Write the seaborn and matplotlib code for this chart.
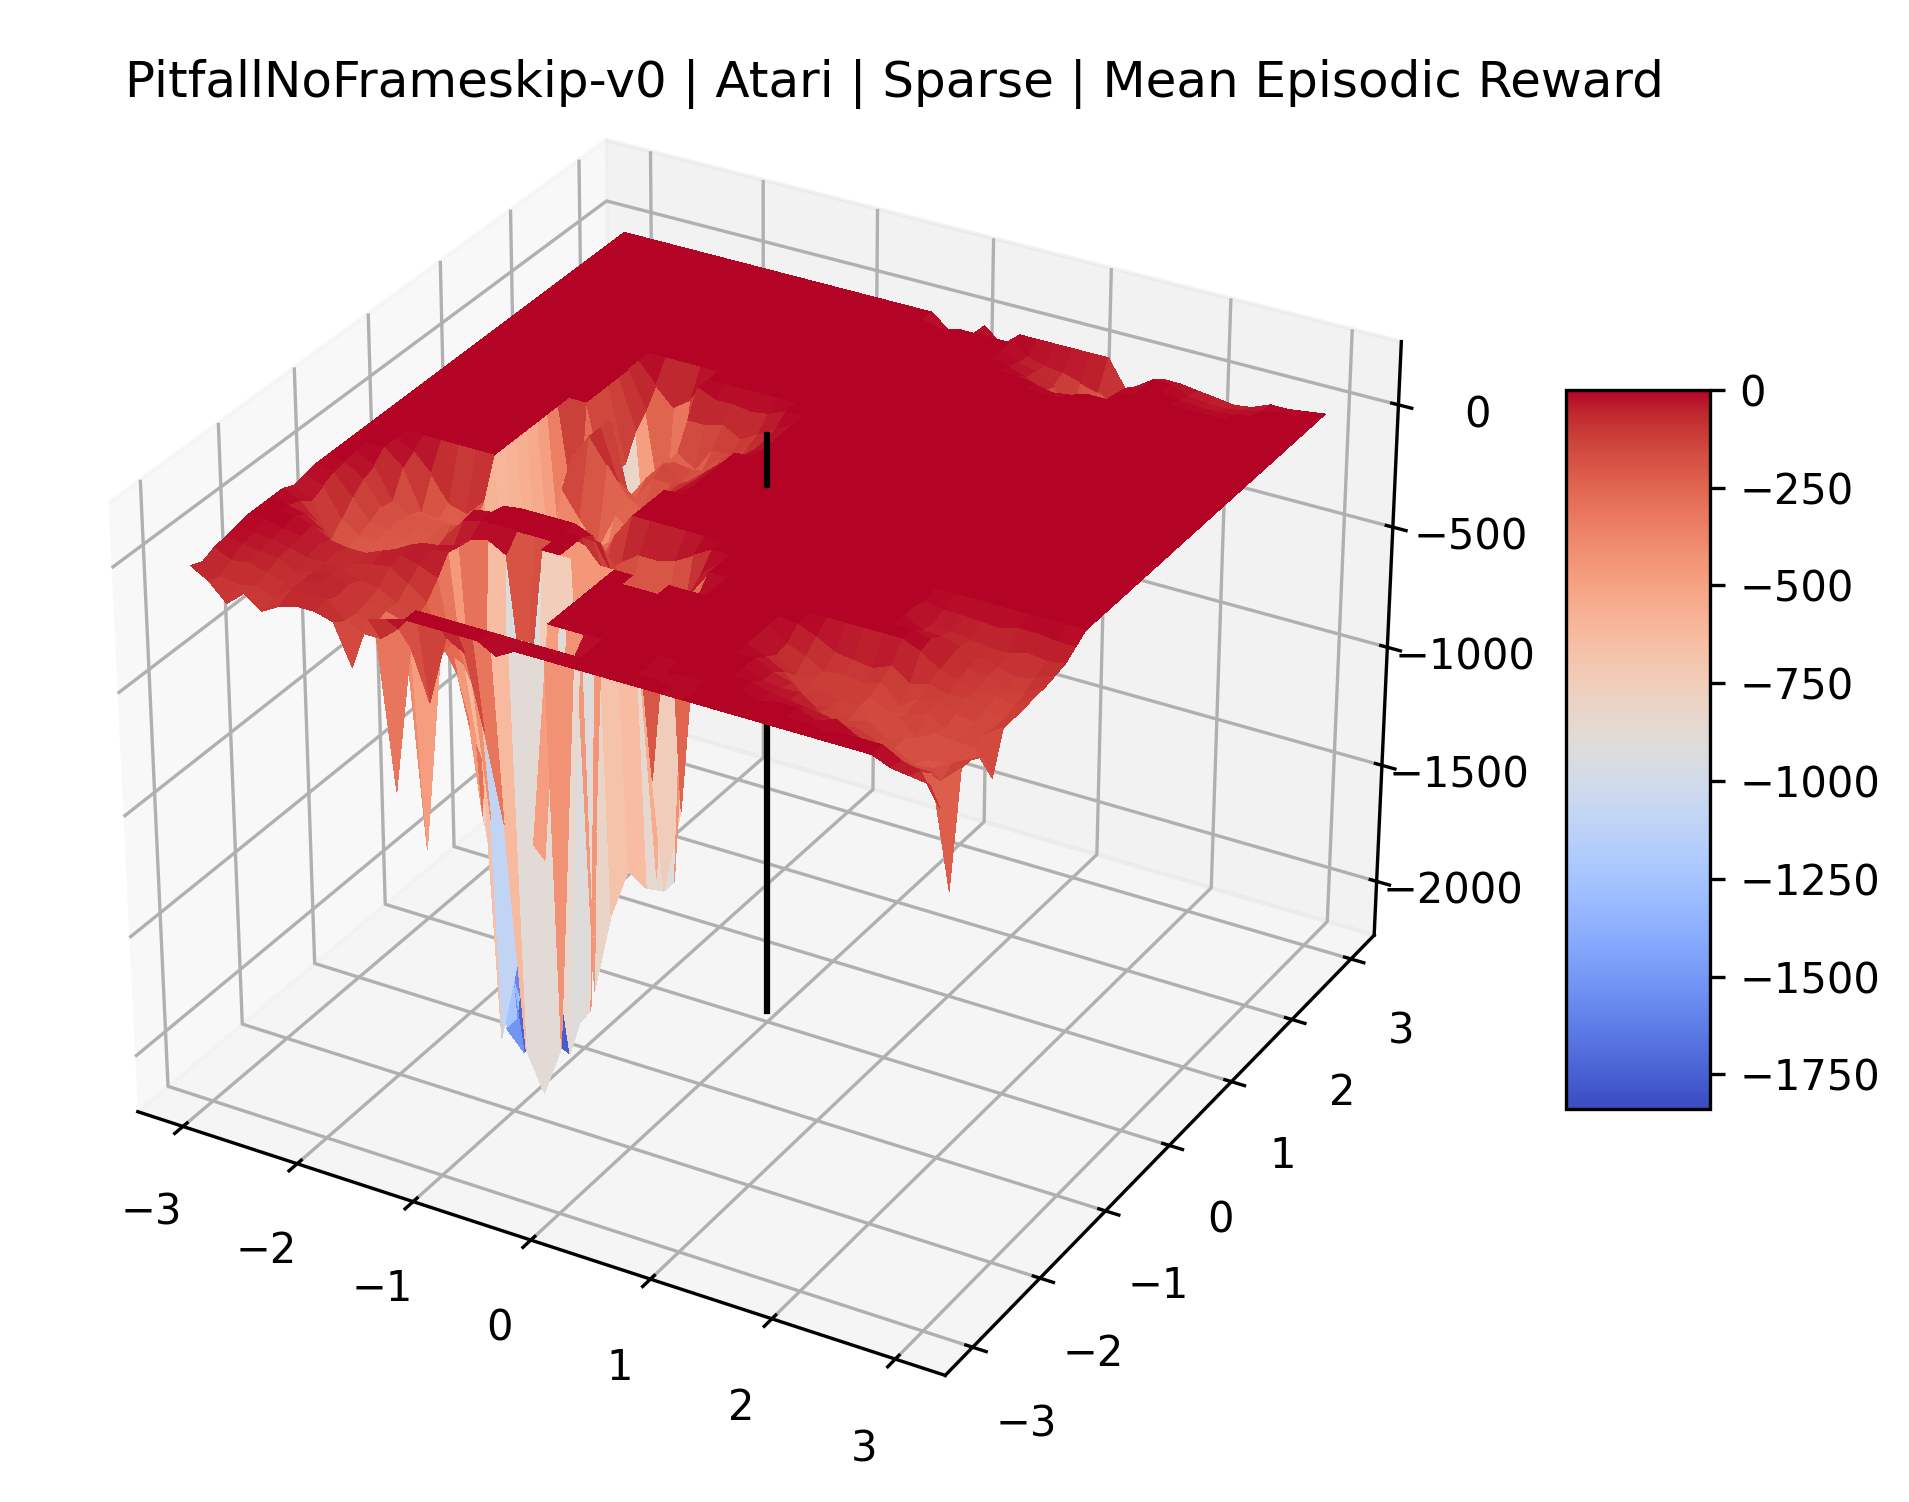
import numpy as np
import matplotlib
matplotlib.use("Agg")
import matplotlib.pyplot as plt
import seaborn as sns

title = "PitfallNoFrameskip-v0 | Atari | Sparse | Mean Episodic Reward"
axis_ticks = [-3, -2, -1, 0, 1, 2, 3]
z_ticks = [-2000, -1500, -1000, -500, 0]
cbar_ticks = [0, -250, -500, -750, -1000, -1250, -1500, -1750]
grid_x = np.linspace(-3, 3, 41)
grid_y = np.linspace(-3, 3, 41)
line_low = [-2190, 0]
line_high = [0, 200]

# non-zero reward per grid row (y index): {x index: reward}; all other cells are 0
row00 = {0:-30,1:-70,2:-140,3:-80,4:-130,5:-90,6:-70,7:-70,8:-90,9:-250,10:-40,11:-20,17:-40,38:-30,39:-40,40:-50}
row01 = {0:-50,1:-90,2:-100,3:-90,4:-110,5:-60,6:-60,7:-60,8:-120,9:-150,10:-150,11:-90,26:-15,27:-20,34:-15,38:-40,39:-60,40:-180}
row02 = {0:-30,1:-60,2:-50,3:-70,4:-90,5:-60,6:-50,7:-80,8:-130,9:-150,10:-800,11:-200,12:-400,13:-120,14:-160,15:-450,16:-800,17:-1700,18:-1860,19:-1650,20:-60,24:-15,25:-20,30:-15,33:-30,35:-40,36:-70,37:-80,38:-100,39:-100,40:-540}
row03 = {0:-20,1:-30,2:-40,3:-50,4:-80,5:-60,6:-50,7:-70,8:-120,9:-130,10:-150,11:-1050,12:-250,13:-150,14:-300,15:-1740,16:-1400,17:-900,30:-20,31:-30,32:-40,33:-50,34:-80,35:-100,36:-100,37:-140,38:-150,39:-170,40:-100}
row04 = {0:-10,1:-20,2:-30,3:-40,4:-60,5:-60,6:-70,7:-90,8:-100,9:-140,10:-180,11:-220,12:-180,13:-300,14:-900,15:-1500,16:-1700,17:-1000,29:-30,30:-40,31:-35,32:-90,33:-120,34:-110,35:-140,36:-150,37:-190,38:-180,39:-140,40:-100}
row05 = {2:-20,3:-30,4:-40,5:-50,6:-80,7:-60,8:-50,9:-100,10:-150,11:-320,12:-350,13:-500,14:-1800,15:-1880,16:-1820,17:-1500,29:-35,30:-55,31:-120,32:-110,33:-140,34:-120,35:-170,36:-140,37:-210,38:-200,39:-170,40:-130}
row06 = {3:-20,4:-60,5:-70,6:-70,7:-40,8:-40,9:-60,10:-90,11:-450,12:-700,13:-900,14:-1800,15:-1800,16:-1850,17:-1880,28:-30,29:-70,30:-140,31:-100,32:-120,33:-120,34:-210,35:-120,36:-180,37:-140,38:-150,39:-150,40:-250}
row07 = {1:-15,2:-30,3:-80,4:-150,5:-180,6:-150,7:-70,8:-30,9:-30,10:-20,11:-700,12:-1200,13:-1000,14:-1500,15:-1700,16:-1820,17:-1786,28:-60,29:-120,30:-110,31:-120,32:-120,33:-120,34:-160,35:-140,36:-120,37:-160,38:-160,39:-140,40:-90}
row08 = {1:-30,2:-100,3:-180,4:-200,5:-200,6:-180,7:-120,8:-60,9:-50,10:-30,11:-1100,12:-1400,13:-1500,14:-1500,15:-1500,16:-1500,17:-1780,28:-50,29:-80,30:-120,31:-110,32:-120,33:-100,34:-170,35:-120,36:-120,37:-140,38:-150,39:-150,40:-90}
row09 = {0:-20,1:-60,2:-200,3:-220,4:-210,5:-200,6:-200,7:-180,8:-120,9:-100,10:-40,11:-20,12:-60,13:-700,20:-800,28:-10,29:-40,30:-80,31:-90,32:-100,33:-70,34:-120,35:-100,36:-120,37:-110,38:-140,39:-150,40:-90}
row10 = {0:-10,1:-40,2:-150,3:-200,4:-200,5:-210,6:-210,7:-220,8:-100,9:-20,16:-1800,17:-1460,18:-1250,19:-1300,20:-1290,21:-940,22:-60,34:-30,35:-80,36:-100,37:-120,38:-120,39:-140,40:-80}
row11 = {1:-20,2:-100,3:-180,4:-190,5:-210,6:-220,7:-200,8:-100,9:-10,17:-100,18:-300,19:-1300,20:-1290,21:-100,34:-15,35:-70,36:-90,37:-100,38:-130,39:-120,40:-80}
row12 = {1:-10,2:-60,3:-150,4:-190,5:-200,6:-200,7:-150,8:-130,9:-80,10:-10,15:-30,16:-150,17:-280,18:-300,19:-300,20:-260,21:-60,33:-40,34:-40,35:-60,36:-80,37:-100,38:-120,39:-100,40:-70}
row13 = {2:-40,3:-160,4:-200,5:-190,6:-200,7:-180,8:-170,9:-170,10:-120,11:-100,12:-120,13:-100,14:-120,15:-200,16:-150,17:-100,18:-100,19:-80,20:-40,33:-50,34:-60,35:-70,36:-80,37:-80,38:-60,39:-70,40:-60}
row14 = {3:-60,4:-220,5:-230,6:-240,7:-220,8:-400,9:-300,10:-300,11:-400,12:-300,13:-200,14:-250,15:-100,32:-15,33:-30,34:-30,35:-35,36:-40,37:-20,38:-20,39:-30,40:-30}
row15 = {3:-30,4:-100,5:-200,6:-220,7:-150,8:-1000,9:-1000,10:-600,11:-800,12:-500,13:-300,14:-350,15:-150}
row16 = {8:-1200,9:-600,10:-700,11:-700,12:-600,13:-250,14:-200,15:-100}
row17 = {8:-1200,9:-500,10:-700,11:-650,12:-500,13:-300,14:-200,15:-120}
row18 = {8:-1150,9:-400,10:-600,11:-600,12:-400,13:-300,14:-250,15:-150,16:-40}
row19 = {8:-1100,9:-200,10:-300,11:-400,12:-250,13:-300,14:-200,15:-100,16:-50}
row20 = {8:-1050,9:-100,11:-100,12:-200,13:-250,14:-200,15:-100,16:-60}
row21 = {8:-900,9:-150,11:-200,12:-250,13:-150,14:-150,15:-120,16:-60}
row22 = {8:-500,9:-300,11:-300,12:-200,13:-120,14:-180,15:-150,16:-80}
row23 = {9:-300,10:-500,11:-300,12:-200,13:-150,14:-160,15:-200,16:-100,17:-40}
row24 = {9:-300,10:-1800,11:-500,12:-200,13:-300,14:-200,15:-130,16:-120,17:-50}
row25 = {9:-300,10:-1800,11:-500,12:-200,13:-250,14:-150,15:-150,16:-100,17:-50}
row26 = {9:-200,10:-1000,11:-500,12:-100,13:-100,14:-80,15:-120,16:-80,17:-40}
row27 = {9:-150,10:-600,11:-400,13:-30,14:-30,15:-40,16:-30}
row28 = {9:-80,10:-150,11:-100}
row29 = {}
row30 = {}
row31 = {}
row32 = {}
row33 = {}
row34 = {}
row35 = {}
row36 = {26:-15,27:-30,28:-20}
row37 = {24:-15,25:-40,26:-70,27:-250,28:-300,29:-120,30:-10}
row38 = {24:-30,25:-50,26:-90,27:-230,28:-280,29:-250,30:-20,33:-15,34:-20,35:-20,36:-15}
row39 = {19:-20,24:-40,25:-60,26:-70,27:-90,28:-110,29:-150,30:-50,33:-30,34:-40,35:-40,36:-30,37:-15}
row40 = {19:-60,20:-70,22:-60,29:-110,30:-70,31:-30,32:-30,33:-40,34:-50,35:-60,36:-50,37:-20,38:-20,39:-10}
rows = [row00,row01,row02,row03,row04,row05,row06,row07,row08,row09,row10,row11,row12,row13,
        row14,row15,row16,row17,row18,row19,row20,row21,row22,row23,row24,row25,row26,row27,
        row28,row29,row30,row31,row32,row33,row34,row35,row36,row37,row38,row39,row40]

sns.set_style("white")
plt.rcdefaults()
cmap = sns.color_palette("coolwarm", as_cmap=True)

Z = np.zeros((len(grid_y), len(grid_x)))
for j, row in enumerate(rows):
    for i, value in row.items():
        Z[j, i] = value
X, Y = np.meshgrid(grid_x, grid_y)

fig = plt.figure(figsize=(1910/300, 1502/300), dpi=300)
ax = fig.add_axes([0.0016, 0.0239, 0.78, 0.957], projection="3d")
ax.computed_zorder = False
ax.plot([0, 0], [0, 0], line_low, color="black", lw=1.5, zorder=1)
surf = ax.plot_surface(X, Y, Z, cmap=cmap, rstride=1, cstride=1, linewidth=0, antialiased=False, zorder=2)
ax.plot([0, 0], [0, 0], line_high, color="black", lw=1.5, zorder=3)
ax.set_xlim(-3.4, 3.4)
ax.set_ylim(-3.4, 3.4)
ax.set_zlim(-2235, 255)
ax.set_xticks(axis_ticks)
ax.set_yticks(axis_ticks)
ax.set_zticks(z_ticks)
fig.text(734/1568, 1-80/1233, title, fontsize=12, ha="center", va="baseline")
cax = fig.add_axes([1286/1568, 1-910/1233, 118/1568, 590/1233])
cb = fig.colorbar(surf, cax=cax, ticks=cbar_ticks)
fig.savefig("out.png", dpi=300)
